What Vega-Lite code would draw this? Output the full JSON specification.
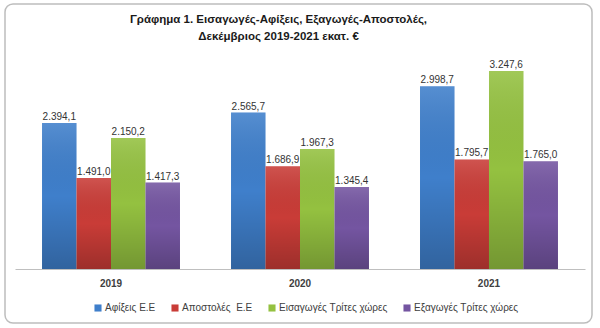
{
  "$schema": "https://vega.github.io/schema/vega-lite/v6.json",
  "width": 587,
  "height": 319,
  "autosize": "none",
  "padding": {"left": 5, "top": 4, "right": 8, "bottom": 5},
  "background": "white",
  "title": {
    "text": ["Γράφημα 1. Εισαγωγές-Αφίξεις, Εξαγωγές-Αποστολές,", "Δεκέμβριος 2019-2021 εκατ. €"],
    "orient": "top",
    "anchor": "middle",
    "offset": -49,
    "dx": -20,
    "baseline": "bottom",
    "font": "Liberation Sans",
    "fontSize": 11.5,
    "fontWeight": "bold",
    "lineHeight": 17,
    "color": "#1a1a1a"
  },
  "data": {
    "values": [
      {"year": "2019", "series": "Αφίξεις Ε.Ε", "value": 2394.1},
      {"year": "2019", "series": "Αποστολές \u00a0Ε.Ε", "value": 1491.0},
      {"year": "2019", "series": "Εισαγωγές Τρίτες χώρες", "value": 2150.2},
      {"year": "2019", "series": "Εξαγωγές Τρίτες χώρες", "value": 1417.3},
      {"year": "2020", "series": "Αφίξεις Ε.Ε", "value": 2565.7},
      {"year": "2020", "series": "Αποστολές \u00a0Ε.Ε", "value": 1686.9},
      {"year": "2020", "series": "Εισαγωγές Τρίτες χώρες", "value": 1967.3},
      {"year": "2020", "series": "Εξαγωγές Τρίτες χώρες", "value": 1345.4},
      {"year": "2021", "series": "Αφίξεις Ε.Ε", "value": 2998.7},
      {"year": "2021", "series": "Αποστολές \u00a0Ε.Ε", "value": 1795.7},
      {"year": "2021", "series": "Εισαγωγές Τρίτες χώρες", "value": 3247.6},
      {"year": "2021", "series": "Εξαγωγές Τρίτες χώρες", "value": 1765.0}
    ]
  },
  "encoding": {
    "x": {
      "field": "year",
      "type": "nominal",
      "scale": {"range": [10, 580], "paddingInner": 0.27, "paddingOuter": 0.143},
      "axis": {
        "title": null,
        "orient": "bottom",
        "offset": -54,
        "ticks": false,
        "domainColor": "#bfbfbf",
        "domainWidth": 1,
        "labelAngle": 0,
        "labelPadding": 9,
        "labelFont": "Liberation Sans",
        "labelFontSize": 10,
        "labelFontWeight": "bold",
        "labelColor": "#404040",
        "grid": false
      }
    },
    "xOffset": {
      "field": "series",
      "type": "nominal",
      "sort": ["Αφίξεις Ε.Ε", "Αποστολές \u00a0Ε.Ε", "Εισαγωγές Τρίτες χώρες", "Εξαγωγές Τρίτες χώρες"],
      "scale": {"paddingInner": 0, "paddingOuter": 0}
    },
    "y": {
      "field": "value",
      "type": "quantitative",
      "scale": {"domain": [-886, 4346], "nice": false, "zero": false},
      "axis": null
    }
  },
  "layer": [
    {
      "mark": {"type": "bar"},
      "encoding": {
        "color": {
          "field": "series",
          "type": "nominal",
          "sort": ["Αφίξεις Ε.Ε", "Αποστολές \u00a0Ε.Ε", "Εισαγωγές Τρίτες χώρες", "Εξαγωγές Τρίτες χώρες"],
          "scale": {
            "domain": ["Αφίξεις Ε.Ε", "Αποστολές \u00a0Ε.Ε", "Εισαγωγές Τρίτες χώρες", "Εξαγωγές Τρίτες χώρες"],
            "range": ["#3f7fcb", "#c93c37", "#94c140", "#7455a1"]
          },
          "legend": {
            "title": null,
            "orient": "none",
            "direction": "horizontal",
            "legendX": 88,
            "legendY": 299,
            "symbolType": "square",
            "symbolSize": 50,
            "symbolStrokeWidth": 0,
            "symbolOpacity": 1,
            "labelFont": "Liberation Sans",
            "labelFontSize": 10,
            "labelColor": "#404040",
            "labelOffset": 2,
            "columnPadding": 14
          }
        }
      }
    },
    {
      "mark": {
        "type": "bar",
        "fill": {
          "gradient": "linear",
          "x1": 0, "y1": 0, "x2": 0, "y2": 1,
          "stops": [
            {"offset": 0, "color": "rgba(255,255,255,0.12)"},
            {"offset": 0.5, "color": "rgba(0,0,0,0)"},
            {"offset": 1, "color": "rgba(0,0,0,0.22)"}
          ]
        }
      },
      "encoding": {}
    },
    {
      "mark": {
        "type": "text",
        "baseline": "bottom",
        "dy": -1,
        "font": "Liberation Sans",
        "fontSize": 10,
        "color": "#333333"
      },
      "encoding": {
        "text": {"field": "value", "type": "quantitative", "format": ",.1f"}
      }
    }
  ],
  "config": {
    "locale": {
      "number": {"decimal": ",", "thousands": ".", "grouping": [3], "currency": ["", " €"]}
    },
    "view": {"stroke": "#bdbdbd", "strokeWidth": 1.5, "cornerRadius": 8}
  }
}
